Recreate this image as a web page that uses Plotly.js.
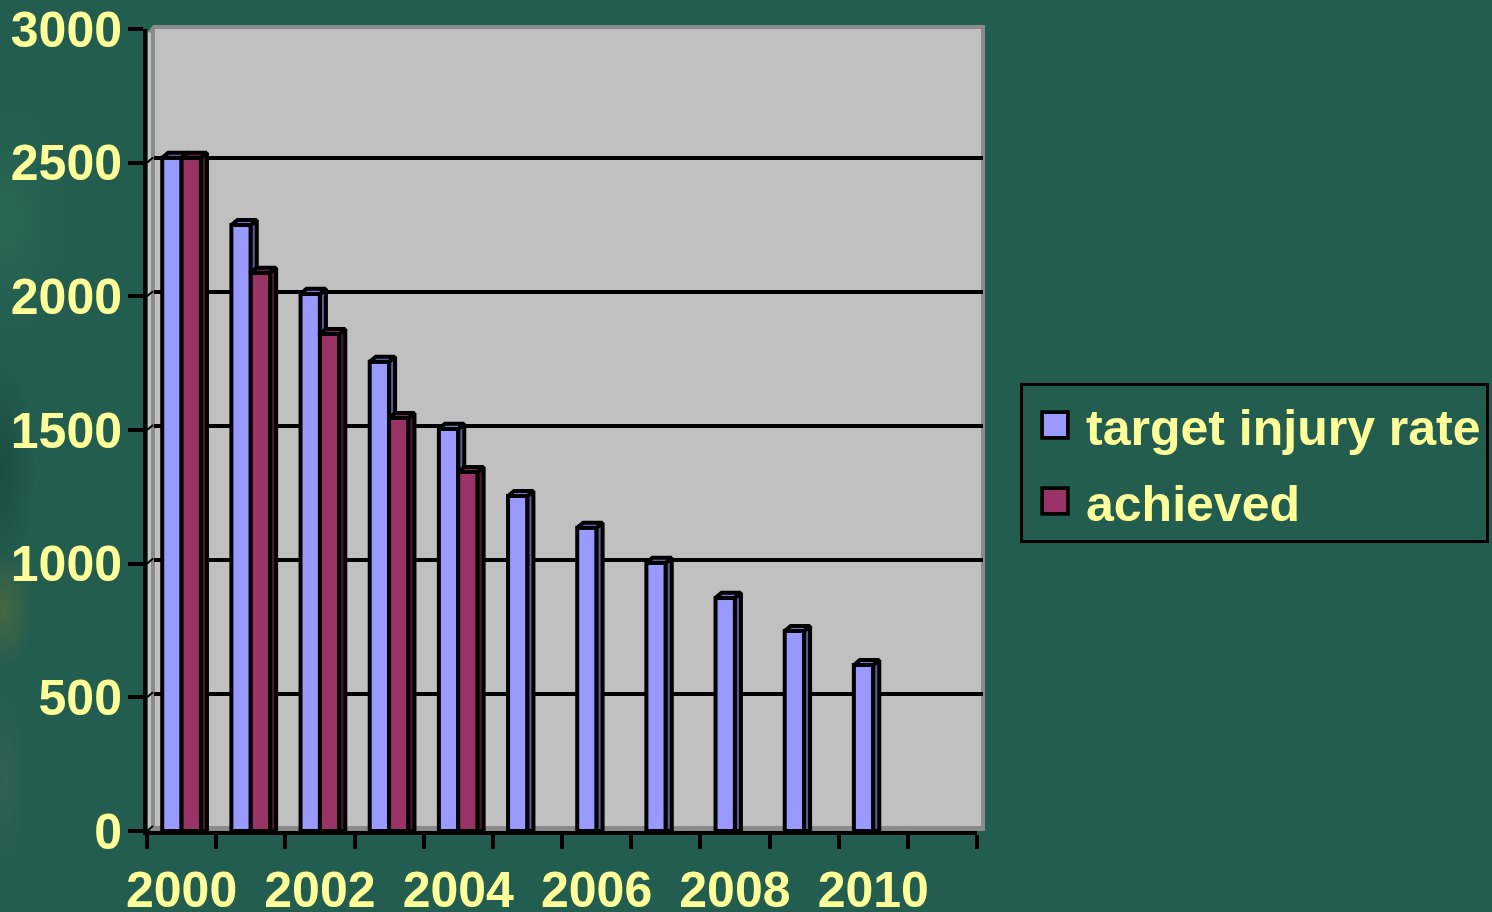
<!DOCTYPE html>
<html><head><meta charset="utf-8">
<script src="https://cdn.plot.ly/plotly-3.0.1.min.js"></script>
<style>
html,body{margin:0;padding:0;width:1492px;height:912px;overflow:hidden;background:#235d50;}
#bg{position:absolute;left:0;top:0;width:1492px;height:912px;background:
 radial-gradient(ellipse 30px 60px at 4px 610px,rgba(120,120,40,.4),transparent),
 radial-gradient(ellipse 60px 120px at 8px 220px,rgba(50,125,85,.35),transparent),
 radial-gradient(ellipse 35px 110px at 0px 470px,rgba(20,60,50,.5),transparent),
 radial-gradient(ellipse 22px 90px at 5px 780px,rgba(90,110,90,.25),transparent),
 #235d50;}
#chart{position:absolute;left:0;top:0;width:1492px;height:912px;}
.legendpoints path{transform:translate(32px,0) scale(2.15);stroke-width:1.7px !important;}
</style></head><body>
<div id="bg"></div><div id="chart"></div>
<script>
const years=[2000,2001,2002,2003,2004,2005,2006,2007,2008,2009,2010,2011];
const targetRate=[2518,2267,2009,1755,1504,1253,1134,1003,872,748,621,null];
const achieved=[2518,2088,1859,1545,1343,null,null,null,null,null,null,null];
const yTicks=[0,500,1000,1500,2000,2500,3000];
const xLabelYears=[2000,2002,2004,2006,2008,2010];

const W=1492,H=912;
const px=x=>x/W, py=y=>1-y/H;
const barW=0.28, dx=0.087, dy=19;
const idx=years.map((_,i)=>i);

function faces(vals,left,right,floorVals){
  const sx=[],sy=[],tx=[],ty=[];
  vals.forEach((v,i)=>{
    if(v==null) return;
    const a=i+left,b=i+right;
    const low=floorVals&&floorVals[i]!=null?floorVals[i]:0;
    sx.push(b,b+dx,b+dx,b,b,null); sy.push(v,v+dy,low,low,v,null);
    tx.push(a,a+dx,b+dx,b,a,null); ty.push(v,v+dy,v+dy,v,v,null);
  });
  return {sx,sy,tx,ty};
}
function poly(x,y,color){
  return {type:'scatter',mode:'lines',x,y,xaxis:'x2',yaxis:'y2',fill:'toself',fillcolor:color,
    line:{color:'#000',width:4},showlegend:false,hoverinfo:'skip'};
}
const ft=faces(targetRate,-barW,0,achieved), fa=faces(achieved,0,barW,null);
const linkX=[],linkY=[];
yTicks.forEach(v=>{linkX.push(-0.5,-0.5+dx,null);linkY.push(v,v+dy,null);});

const data=[
 {type:'scatter',mode:'lines',x:[0],y:[0],xaxis:'x',yaxis:'y',line:{width:0},showlegend:false,hoverinfo:'skip'},
 {type:'bar',name:'target injury rate',x:idx,y:targetRate,xaxis:'x2',yaxis:'y2',legendgroup:'a',
  marker:{color:'#9999ff',line:{color:'#000',width:4}}},
 {type:'bar',name:'achieved',x:idx,y:achieved,xaxis:'x2',yaxis:'y2',legendgroup:'b',
  marker:{color:'#993366',line:{color:'#000',width:4}}},
 {type:'scatter',mode:'lines',x:linkX,y:linkY,xaxis:'x2',yaxis:'y2',line:{color:'#000',width:2},showlegend:false,hoverinfo:'skip'},
 poly(ft.sx,ft.sy,'#5c5c99'),poly(ft.tx,ft.ty,'#7a7acc'),
 poly(fa.sx,fa.sy,'#4d1a33'),poly(fa.tx,fa.ty,'#7a2952')
];
const gray='#8a8a8a',wall='#c0c0c0';
const path=(pts)=>'M'+pts.map(p=>px(p[0])+','+py(p[1])).join('L')+'Z';
const shapes=[
 {type:'path',xref:'paper',yref:'paper',layer:'below',line:{width:0},fillcolor:wall,path:path([[148,32],[154,27],[983,27],[983,829],[148,830]])},
 {type:'path',xref:'paper',yref:'paper',layer:'below',line:{width:0},fillcolor:gray,path:path([[148,32],[153,25],[985,25],[985,29],[155,29],[155,34]])},
 {type:'rect',xref:'paper',yref:'paper',layer:'below',line:{width:0},fillcolor:gray,x0:px(151),x1:px(155),y0:py(29),y1:py(829)},
 {type:'rect',xref:'paper',yref:'paper',layer:'below',line:{width:0},fillcolor:gray,x0:px(981),x1:px(985),y0:py(25),y1:py(830)},
 {type:'rect',xref:'paper',yref:'paper',layer:'below',line:{width:0},fillcolor:gray,x0:px(151),x1:px(985),y0:py(826),y1:py(831)}
];
const font={family:'"Liberation Sans",Arial,sans-serif',size:50,color:'#ffff99',weight:700};
const layout={
 width:W,height:H,paper_bgcolor:'rgba(0,0,0,0)',plot_bgcolor:'rgba(0,0,0,0)',
 margin:{l:0,r:0,t:0,b:0},font,
 barmode:'group',bargap:0.44,bargroupgap:0,
 shapes,
 xaxis:{domain:[px(154),px(983)],range:[-0.5,11.5],anchor:'y',showgrid:false,zeroline:false,showticklabels:false,ticks:'',showline:false},
 yaxis:{domain:[py(828),py(27)],range:[0,2989],anchor:'x',showgrid:true,gridcolor:'#000',gridwidth:3.5,zeroline:false,
   tickmode:'array',tickvals:[500,1000,1500,2000,2500],showticklabels:false,ticks:'',showline:false},
 xaxis2:{domain:[px(147),px(977)],range:[-0.5,11.5],anchor:'y2',showgrid:false,zeroline:false,
   showline:true,linecolor:'#000',linewidth:4,
   tickmode:'array',tickvals:xLabelYears.map(y=>years.indexOf(y)),ticktext:xLabelYears.map(String),
   ticks:'',ticklabelstandoff:12,tickfont:font,
   minor:{tickmode:'array',tickvals:years.map((_,i)=>i-0.5).concat([11.5]),ticks:'outside',ticklen:14,tickwidth:4,tickcolor:'#000',showgrid:false}},
 yaxis2:{domain:[py(831),py(29)],range:[0,3000],anchor:'x2',showgrid:false,zeroline:false,
   showline:true,linecolor:'#000',linewidth:4,
   tickmode:'array',tickvals:yTicks,ticktext:yTicks.map(String),ticks:'outside',ticklen:15,tickwidth:4,tickcolor:'#000',
   ticklabelstandoff:-4,tickfont:font},
 showlegend:true,
 legend:{x:px(1020),y:py(383),xanchor:'left',yanchor:'top',bgcolor:'rgba(0,0,0,0)',bordercolor:'#000',borderwidth:3,
   font,traceorder:'grouped',tracegroupgap:8,itemwidth:53,entrywidth:480,entrywidthmode:'pixels',itemclick:false,itemdoubleclick:false}
};
Plotly.newPlot('chart',data,layout,{displayModeBar:false,staticPlot:true});
</script></body></html>
